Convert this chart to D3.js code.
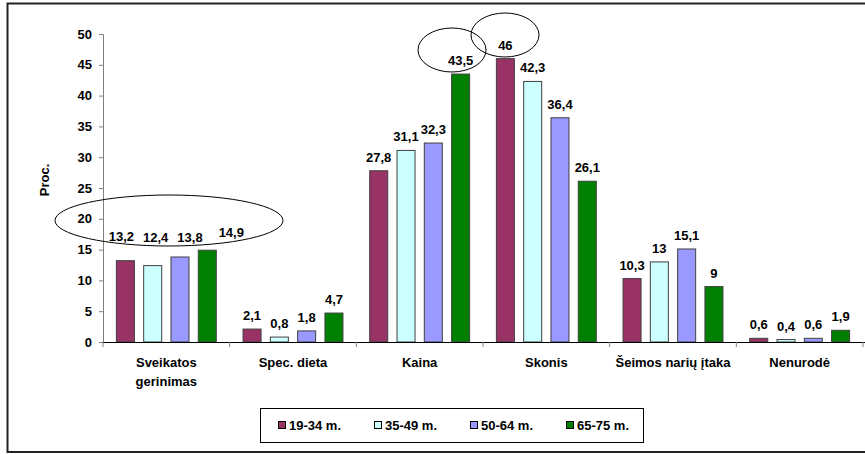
<!DOCTYPE html>
<html>
<head>
<meta charset="utf-8">
<script src="https://cdn.jsdelivr.net/npm/d3@7"></script>
<style>
  body { margin: 0; background: #fff; }
  svg text { font-family: "Liberation Sans", Arial, sans-serif; font-weight: bold; font-size: 13px; fill: #000; }
</style>
</head>
<body>
<svg id="chart" width="865" height="454"></svg>
<script>
// data
categories = [["Sveikatos", "gerinimas"], ["Spec. dieta"], ["Kaina"], ["Skonis"], ["Šeimos narių įtaka"], ["Nenurodė"]];
series = ["19-34 m.", "35-49 m.", "50-64 m.", "65-75 m."];
colors = ["#993366", "#CCFFFF", "#9999FF", "#008000"];
values = [
  [13.2, 2.1, 27.8, 46, 10.3, 0.6],
  [12.4, 0.8, 31.1, 42.3, 13, 0.4],
  [13.8, 1.8, 32.3, 36.4, 15.1, 0.6],
  [14.9, 4.7, 43.5, 26.1, 9, 1.9]
];
yTicks = [0, 5, 10, 15, 20, 25, 30, 35, 40, 45, 50];

svg = d3.select('#chart');
svg.append('rect').attr('x', 7.5).attr('y', 3.5).attr('width', 880).attr('height', 448.5)
  .attr('fill', 'none').attr('stroke', '#222').attr('stroke-width', 2);

let plotL = 103, plotR = 863, plotT = 34, plotB = 342;
let catIdx = d3.range(categories.length);
let x0 = d3.scaleBand().domain(catIdx).range([plotL, plotR]).padding(0);
let x1 = d3.scaleBand().domain(d3.range(series.length)).range([0, x0.bandwidth()]).paddingInner(0.34).paddingOuter(0.49);
let y = d3.scaleLinear().domain([0, 50]).range([plotB, plotT]);

// y axis
let yAxis = svg.append('g').attr('transform', 'translate(' + plotL + ',0)')
  .call(d3.axisLeft(y).tickValues(yTicks).tickSize(4).tickPadding(7));
yAxis.select('.domain').attr('stroke', '#808080');
yAxis.selectAll('.tick line').attr('stroke', '#808080');
yAxis.selectAll('text').attr('font-family', null).attr('font-size', null);

svg.append('text').attr('transform', 'translate(49,180) rotate(-90)')
  .attr('text-anchor', 'middle').text('Proc.');

// bars
let groups = svg.append('g');
values.forEach(function(vals, s){
  groups.selectAll('.bar' + s).data(vals).enter().append('rect')
    .attr('class', 'bar' + s)
    .attr('x', function(d, i){ return x0(i) + x1(s); })
    .attr('y', function(d){ return y(d); })
    .attr('width', x1.bandwidth())
    .attr('height', function(d){ return y(0) - y(d); })
    .attr('fill', colors[s])
    .attr('stroke', '#404040')
    .attr('stroke-width', 1);
});

// value labels (first group was hand placed in the original)
let nudgeX = [-4, 3, 10, 24];
let nudgeY = [241, 242, 242, 237];
values.forEach(function(vals, s){
  vals.forEach(function(v, i){
    let cx = x0(i) + x1(s) + x1.bandwidth() / 2;
    let by = y(v) - 9;
    if(i == 0){
      cx += nudgeX[s];
      by = nudgeY[s];
    }
    svg.append('text').attr('x', cx).attr('y', by).attr('text-anchor', 'middle')
      .text(String(v).replace('.', ','));
  });
});

// x axis
svg.append('line').attr('x1', plotL).attr('x2', plotR + 2).attr('y1', plotB + 0.5).attr('y2', plotB + 0.5)
  .attr('stroke', '#000');
catIdx.concat([categories.length]).forEach(function(i){
  let xx = i < categories.length ? x0(i) : plotR;
  svg.append('line').attr('x1', xx).attr('x2', xx).attr('y1', plotB).attr('y2', plotB + 5)
    .attr('stroke', '#808080');
});
categories.forEach(function(lines, i){
  lines.forEach(function(t, k){
    svg.append('text').attr('x', x0(i) + x0.bandwidth() / 2).attr('y', 367 + k * 19)
      .attr('text-anchor', 'middle').text(t);
  });
});

// ellipses
let ell = [[169, 220.5, 114, 25.5], [452, 50, 34, 22], [505, 35, 34, 22]];
ell.forEach(function(e){
  svg.append('ellipse').attr('cx', e[0]).attr('cy', e[1]).attr('rx', e[2]).attr('ry', e[3])
    .attr('fill', 'none').attr('stroke', '#000').attr('stroke-width', 1);
});

// legend
let lg = svg.append('g');
lg.append('rect').attr('x', 260.5).attr('y', 408.5).attr('width', 383).attr('height', 34)
  .attr('fill', '#fff').attr('stroke', '#000');
series.forEach(function(name, s){
  let lx = 278 + s * 96;
  lg.append('rect').attr('x', lx + 0.5).attr('y', 421.5).attr('width', 7).attr('height', 7)
    .attr('fill', colors[s]).attr('stroke', '#000');
  lg.append('text').attr('x', lx + 11).attr('y', 430).text(name);
});
</script>
</body>
</html>
